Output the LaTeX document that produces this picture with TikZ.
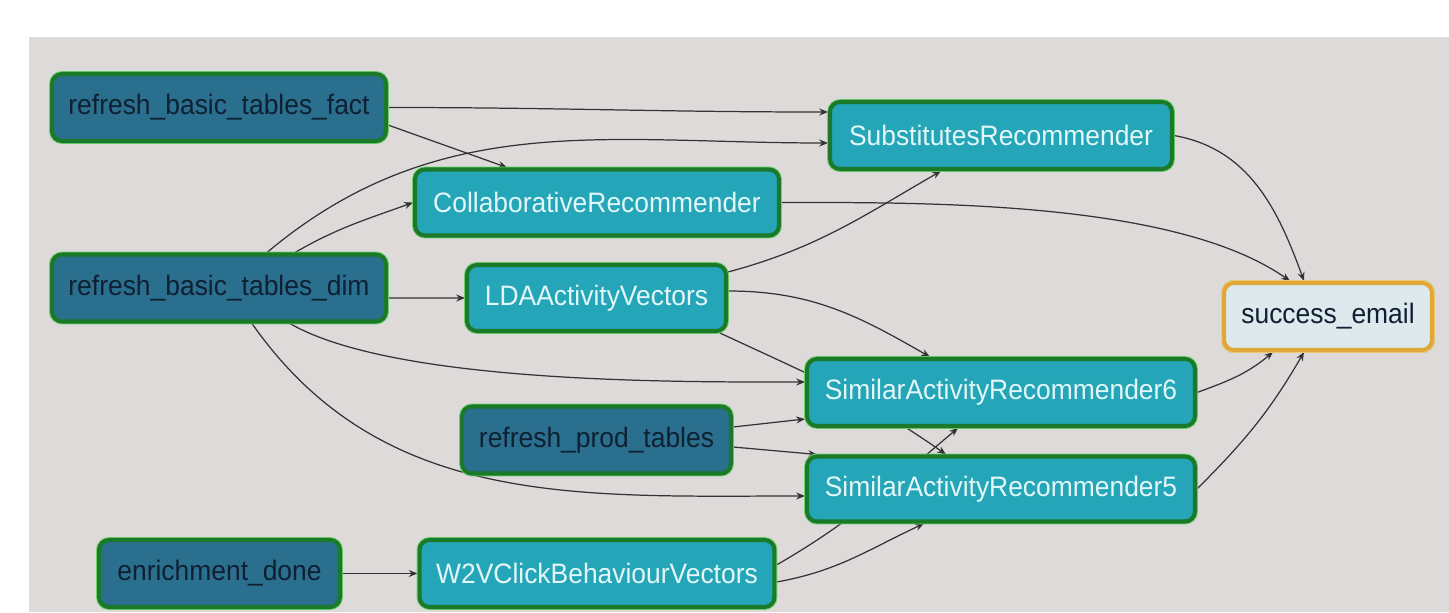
\documentclass[tikz,border=0pt]{standalone}
\usepackage{fontspec}
\newfontfamily\taskfont[FakeStretch=0.94]{Liberation Sans}
\usetikzlibrary{arrows.meta}

\definecolor{bggray}{HTML}{DEDAD9}
\definecolor{dimfill}{HTML}{2A6F8E}
\definecolor{recofill}{HTML}{24A6B8}
\definecolor{taskgreen}{HTML}{1A7A2A}
\definecolor{halogreen}{HTML}{6FD06F}
\definecolor{mailfill}{HTML}{DDE9EC}
\definecolor{mailorange}{HTML}{E2A73A}
\definecolor{halo orange}{HTML}{F2CC7A}
\definecolor{darktext}{HTML}{0F2033}
\definecolor{lighttext}{HTML}{E3F6F8}
\definecolor{edgegray}{HTML}{333333}

\pgfdeclarelayer{bg}
\pgfdeclarelayer{edges}
\pgfsetlayers{bg,edges,main}

\tikzset{
	task/.style={rectangle, rounded corners=0.2cm, inner sep=0pt,
		minimum height=1.34cm, line width=2.3pt, draw=taskgreen,
		preaction={draw=halogreen, line width=3.4pt},
		font=\taskfont\fontsize{16}{19}\selectfont},
	dimtask/.style={task, fill=dimfill, text=darktext},
	recotask/.style={task, fill=recofill, text=lighttext},
	mailtask/.style={task, fill=mailfill, text=darktext, draw=mailorange,
		preaction={draw=halo orange, line width=3.4pt}},
	dep/.style={draw=edgegray, line width=0.7pt, -{Stealth[length=5pt,width=4pt]}}
}

\begin{document}
\begin{tikzpicture}[x=0.02cm, y=-0.02cm]
	\useasboundingbox (0,0) rectangle (1449,612);
	\begin{pgfonlayer}{bg}
		\fill[bggray] (29,37) rectangle (1449,612);
	\end{pgfonlayer}

	% upstream tables
	\node[dimtask, minimum width=6.68cm] (fact) at (219,107.5) {refresh\_basic\_tables\_fact};
	\node[dimtask, minimum width=6.68cm] (dim) at (219,288) {refresh\_basic\_tables\_dim};
	\node[dimtask, minimum width=4.82cm] (enrich) at (219.5,573.5) {enrichment\_done};
	\node[dimtask, minimum width=5.38cm] (prod) at (596.5,440) {refresh\_prod\_tables};

	% models
	\node[recotask, minimum width=7.28cm, minimum height=1.32cm] (collab) at (597,202.5) {CollaborativeRecommender};
	\node[recotask, minimum width=5.18cm, minimum height=1.32cm] (lda) at (596.5,298) {LDAActivityVectors};
	\node[recotask, minimum width=7.10cm] (w2v) at (597,573.5) {W2VClickBehaviourVectors};
	\node[recotask, minimum width=6.84cm] (subs) at (1001,135.5) {SubstitutesRecommender};
	\node[recotask, minimum width=7.76cm] (sim6) at (1001,392.5) {SimilarActivityRecommender6};
	\node[recotask, minimum width=7.76cm, minimum height=1.30cm] (sim5) at (1001,489) {SimilarActivityRecommender5};

	\node[mailtask, minimum width=4.16cm] (email) at (1328,316.5) {success\_email};

	% dependencies
	\begin{pgfonlayer}{edges}
		\draw[dep] (fact.east) to[out=0,in=180] ([yshift=0.47cm]subs.west);
		\draw[dep] ([yshift=-0.35cm]fact.east) -- ([xshift=-1.8cm]collab.north);
		\draw[dep] ([xshift=0.96cm]dim.north) to[out=40,in=180] ([yshift=-0.15cm]subs.west);
		\draw[dep] ([xshift=1.52cm]dim.north) to[out=30,in=200] (collab.west);
		\draw[dep] ([yshift=-0.2cm]dim.east) -- (lda.west);
		\draw[dep] ([xshift=1.42cm]dim.south) to[out=-30,in=180,looseness=0.6] ([yshift=0.21cm]sim6.west);
		\draw[dep] ([xshift=0.66cm]dim.south) to[out=-55,in=180] ([yshift=-0.14cm]sim5.west);
		\draw[dep] ([yshift=0.52cm]lda.east) to[out=15,in=-150] ([xshift=-1.2cm]subs.south);
		\draw[dep] ([yshift=0.14cm]lda.east) to[out=0,in=150] ([xshift=-1.42cm]sim6.north);
		\draw[dep] ([xshift=2.47cm]lda.south) to[out=-25,in=145] ([xshift=-1.1cm]sim5.north);
		\draw[dep] ([yshift=0.26cm]prod.east) -- ([yshift=-0.53cm]sim6.west);
		\draw[dep] ([yshift=-0.14cm]prod.east) -- ([xshift=0.24cm]sim5.north west);
		\draw[dep] (enrich.east) -- (w2v.west);
		\draw[dep] ([yshift=-0.17cm]w2v.east) to[out=10,in=-155] ([xshift=-1.54cm]sim5.south);
		\draw[dep] ([yshift=0.17cm]w2v.east) to[out=30,in=-140] ([xshift=-0.86cm]sim6.south);
		\draw[dep] (collab.east) to[out=0,in=145,looseness=0.7] ([xshift=-0.76cm]email.north);
		\draw[dep] (subs.east) to[out=-10,in=110] ([xshift=-0.48cm]email.north);
		\draw[dep] (sim6.east) to[out=20,in=-140] ([xshift=-1.1cm]email.south);
		\draw[dep] (sim5.east) to[out=45,in=-120] ([xshift=-0.48cm]email.south);
	\end{pgfonlayer}
\end{tikzpicture}
\end{document}
